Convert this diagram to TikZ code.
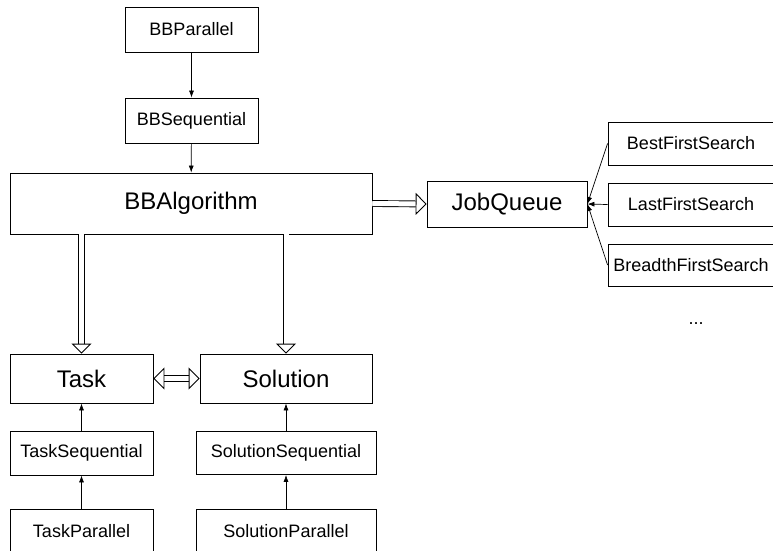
\documentclass[tikz,border=0pt]{standalone}
\usepackage{fontspec}
\setmainfont{Liberation Sans}
\usetikzlibrary{arrows.meta}

\tikzset{
    pointe/.tip={Triangle[color=black, fill=white, line width=0.9pt, length=10pt, width=20pt]},
    grandepointe/.tip={Triangle[color=black, fill=white, line width=0.9pt, length=11pt, width=22pt]}
}

\begin{document}
\begin{tikzpicture}[x=1pt,y=-1pt,
    classe/.style={draw, line width=0.8pt, inner sep=0pt, font=\fontsize{18}{20}\selectfont},
    grande/.style={classe, font=\fontsize{24}{28}\selectfont},
    herit/.style={-{Latex[length=7pt,width=5pt]}, line width=0.7pt},
    compo/.style={double=white, double distance=5pt, line width=0.9pt},
    tete/.style={draw=white, line width=4pt}]
    \useasboundingbox (0,0) rectangle (773,550);

    % Algorithme
    \node[classe, minimum width=133pt, minimum height=45pt] (bbpar) at (191.5,29.5) {BBParallel};
    \node[classe, minimum width=133pt, minimum height=45pt] (bbseq) at (191.5,120.5) {BBSequential};
    \node[grande, minimum width=362pt, minimum height=61pt] (bbalg) at (191,203.5) {BBAlgorithm};

    % File des jobs et strategies
    \node[grande, minimum width=160pt, minimum height=46pt] (jobq) at (507,204) {JobQueue};
    \node[classe, minimum width=166pt, minimum height=43pt] (best) at (691,143.5) {BestFirstSearch};
    \node[classe, minimum width=166pt, minimum height=43pt] (last) at (691,204.5) {LastFirstSearch};
    \node[classe, minimum width=166pt, minimum height=42pt] (breadth) at (691,265) {BreadthFirstSearch};
    \node[font=\fontsize{18}{20}\selectfont] (etc) at (696,324) {...};

    % Taches et solutions
    \node[grande, minimum width=143pt, minimum height=49pt] (task) at (81.5,378.5) {Task};
    \node[grande, minimum width=172pt, minimum height=49pt] (sol) at (286,378.5) {Solution};
    \node[classe, minimum width=143pt, minimum height=44pt] (taskseq) at (81.5,453) {TaskSequential};
    \node[classe, minimum width=180pt, minimum height=43pt] (solseq) at (286,453) {SolutionSequential};
    \node[classe, minimum width=143pt, minimum height=45pt] (taskpar) at (81.5,531.5) {TaskParallel};
    \node[classe, minimum width=180pt, minimum height=45pt] (solpar) at (286,531.5) {SolutionParallel};

    % Heritage
    \draw[herit] (bbpar) -- (bbseq);
    \draw[herit] (bbseq) -- (bbalg);
    \draw[herit] (taskseq) -- (task);
    \draw[herit] (taskpar) -- (taskseq);
    \draw[herit] (solseq) -- (sol);
    \draw[herit] (solpar) -- (solseq);
    \draw[herit] (best.west) -- (jobq.east);
    \draw[herit] (last.west) -- (jobq.east);
    \draw[herit] (breadth.west) -- (jobq.east);

    % Composition : le trait double puis la pointe
    \draw[compo, shorten >=10pt] (bbalg.south -| task.north) -- (task.north);
    \draw[tete, -pointe] (bbalg.south -| task.north) -- (task.north);
    \draw[compo, shorten >=10pt] (bbalg.south -| sol.north) -- (sol.north);
    \draw[tete, -pointe] (bbalg.south -| sol.north) -- (sol.north);
    \draw[compo, shorten >=11pt] (bbalg.east) -- (jobq.west);
    \draw[tete, -grandepointe] (bbalg.east) -- (jobq.west);
    \draw[compo, shorten <=11pt, shorten >=11pt] (task.east) -- (sol.west);
    \draw[tete, grandepointe-grandepointe] (task.east) -- (sol.west);
\end{tikzpicture}
\end{document}
